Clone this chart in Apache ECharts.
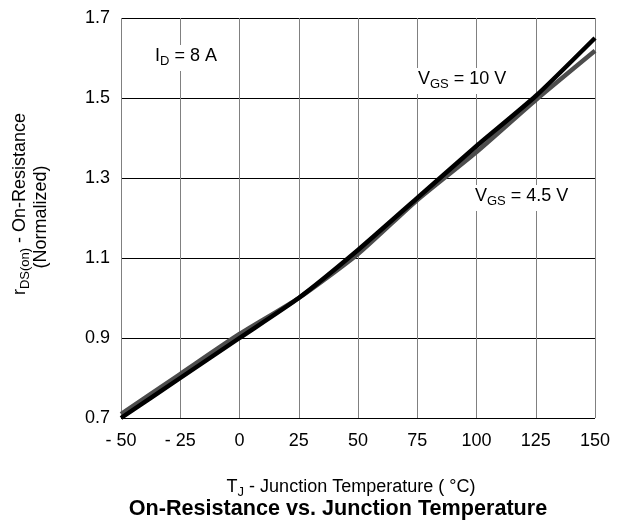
<!DOCTYPE html>
<html><head><meta charset="utf-8">
<script src="https://cdn.jsdelivr.net/npm/echarts@6/dist/echarts.min.js"></script>
<style>html,body{margin:0;padding:0;background:#fff}#c{width:621px;height:525px}</style>
</head><body><div id="c"></div>
<script>
var temps = [-50, -25, 0, 25, 50, 75, 100, 125, 150];
var vgs10 = [0.700, 0.800, 0.900, 1.000, 1.120, 1.250, 1.380, 1.505, 1.650];
var vgs45 = [0.710, 0.810, 0.910, 1.000, 1.110, 1.245, 1.365, 1.495, 1.618];
var xTicks = [-50, 150, 25];
var yTicks = [0.7, 1.7, 0.2];
var F = 'Liberation Sans, Arial, Helvetica, sans-serif';
var chart = echarts.init(document.getElementById('c'));
function pair(a){return temps.map(function(t,i){return [t,a[i]];});}
var rs = {a:{fontSize:18,fontFamily:F,color:'#000'}, s:{fontSize:13,fontFamily:F,color:'#000',padding:[10,0,0,0]}};
chart.setOption({
  animation:false,
  grid:{left:121,right:26,top:18,bottom:107},
  xAxis:{type:'value',min:xTicks[0],max:xTicks[1],interval:xTicks[2],
    axisLine:{show:false},axisTick:{show:false},
    splitLine:{show:true,lineStyle:{color:'#808080',width:1}},
    axisLabel:{fontSize:18,fontFamily:F,color:'#000',margin:14,
      formatter:function(v){return v<0?'- '+Math.abs(v):String(v);}}},
  yAxis:{type:'value',min:yTicks[0],max:yTicks[1],interval:yTicks[2],
    axisLine:{show:false},axisTick:{show:false},
    splitLine:{show:true,lineStyle:{color:'#000',width:1}},
    axisLabel:{fontSize:18,fontFamily:F,color:'#000',margin:11,
      formatter:function(v){return v.toFixed(1);}}},
  series:[
    {type:'line',data:pair(vgs45),showSymbol:false,smooth:0.2,lineStyle:{color:'#4d4d4d',width:4.5},z:2},
    {type:'line',data:pair(vgs10),showSymbol:false,smooth:0.2,lineStyle:{color:'#000',width:4.5},z:3}
  ],
  graphic:[
    {type:'rect',shape:{x:152,y:45,width:72,height:26},style:{fill:'#fff'},z:5},
    {type:'text',x:155,y:45,z:6,style:{text:'{a|I}{s|D}{a| = 8 A}',rich:rs}},
    {type:'rect',shape:{x:415,y:68,width:101,height:26},style:{fill:'#fff'},z:5},
    {type:'text',x:418,y:68,z:6,style:{text:'{a|V}{s|GS}{a| = 10 V}',rich:rs}},
    {type:'rect',shape:{x:472,y:185,width:101,height:26},style:{fill:'#fff'},z:5},
    {type:'text',x:475,y:185,z:6,style:{text:'{a|V}{s|GS}{a| = 4.5 V}',rich:rs}},
    {type:'text',x:351,y:476,style:{text:'{a|T}{s|J}{a| - Junction Temperature ( °C)}',rich:rs,align:'center'}},
    {type:'text',x:338,y:498,style:{text:'On-Resistance vs. Junction Temperature',font:'bold 21.6px '+F,fill:'#000',align:'center'}},
    {type:'text',x:9,y:204,rotation:Math.PI/2,style:{text:'{a|r}{s|DS(on)}{a| - On-Resistance}',rich:rs,align:'center'}},
    {type:'text',x:32,y:217,rotation:Math.PI/2,style:{text:'(Normalized)',font:'18px '+F,fill:'#000',align:'center'}}
  ]
});
</script></body></html>
